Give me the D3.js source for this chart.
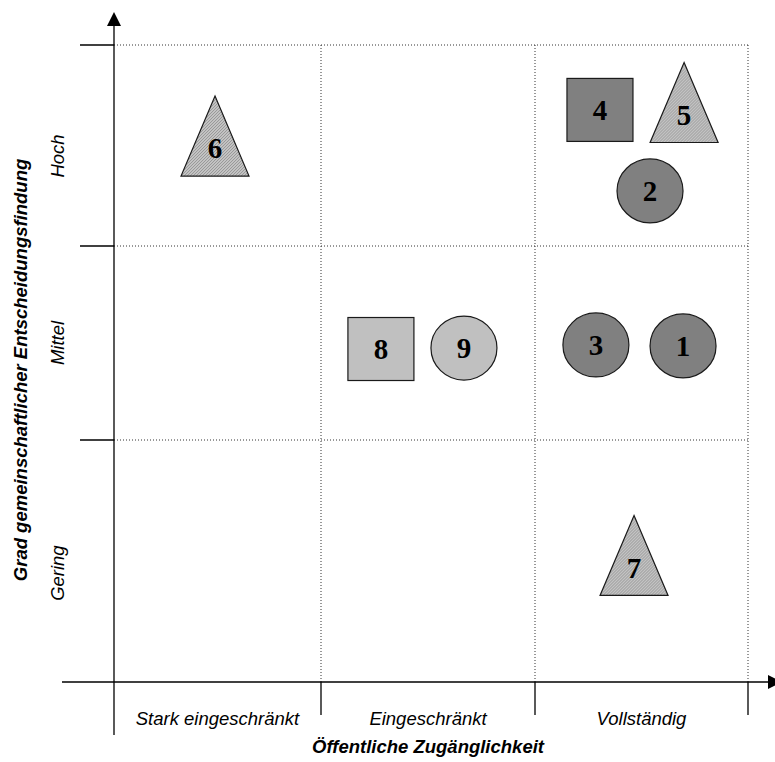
<!DOCTYPE html>
<html>
<head>
<meta charset="utf-8">
<script src="https://cdn.jsdelivr.net/npm/d3@7"></script>
<style>
  html, body { margin: 0; padding: 0; background: #fff; }
  svg { display: block; }
</style>
</head>
<body>
<svg id="chart" width="775" height="762"></svg>
<script>
// ---- data ----
const xCategories = ["Stark eingeschränkt", "Eingeschränkt", "Vollständig"];
const yCategories = ["Gering", "Mittel", "Hoch"];
const yLabelPos = [0.45, 1.5, 2.448];
const xTitle = "Öffentliche Zugänglichkeit";
const yTitle = "Grad gemeinschaftlicher Entscheidungsfindung";

const ids    = [1, 2, 3, 4, 5, 6, 7, 8, 9];
const shapes = ["circle", "circle", "circle", "square", "triangle", "triangle", "triangle", "square", "circle"];
const xVals  = [2.695, 2.54, 2.286, 2.305, 2.70, 0.488, 2.465, 1.28, 1.668];
const yVals  = [1.485, 2.274, 1.49, 2.677, 2.714, 2.547, 0.523, 1.469, 1.474];
const tones  = ["dark", "dark", "dark", "dark", "hatch", "hatch", "hatch", "light", "light"];

// ---- setup ----
const svg = d3.select("#chart");
const x = d3.scaleLinear().domain([0, 1, 2, 3]).range([114, 321, 535, 748]);
const y = d3.scaleLinear().domain([0, 1, 2, 3]).range([682, 440, 246, 45]);

const defs = svg.append("defs");
const pat = defs.append("pattern").attr("id", "hatch")
  .attr("patternUnits", "userSpaceOnUse").attr("width", 3).attr("height", 3);
pat.append("rect").attr("width", 3).attr("height", 3).attr("fill", "#c4c4c4");
pat.append("path").attr("d", "M0,3 L3,0 M-1,1 L1,-1 M2,4 L4,2")
  .attr("stroke", "#8a8a8a").attr("stroke-width", 0.8);

const fillOf = { dark: "#808080", light: "#c0c0c0", hatch: "url(#hatch)" };

// ---- grid (dotted) ----
const g = svg.append("g");
[1, 2, 3].forEach(v => {
  g.append("line").attr("x1", x(v)).attr("x2", x(v)).attr("y1", y(0)).attr("y2", y(3))
    .attr("stroke", "#333").attr("stroke-width", 1).attr("stroke-dasharray", "1,2");
  g.append("line").attr("x1", x(0)).attr("x2", x(3)).attr("y1", y(v)).attr("y2", y(v))
    .attr("stroke", "#333").attr("stroke-width", 1).attr("stroke-dasharray", "1,2");
});

// ---- axes ----
const ax = svg.append("g").attr("stroke", "#000").attr("stroke-width", 1.3);
ax.append("line").attr("x1", x(0)).attr("x2", x(0)).attr("y1", 24).attr("y2", 735);
ax.append("line").attr("x1", 62).attr("x2", 770).attr("y1", y(0)).attr("y2", y(0));
[1, 2, 3].forEach(v => {
  ax.append("line").attr("x1", x(v)).attr("x2", x(v)).attr("y1", y(0)).attr("y2", y(0) + 33);
  ax.append("line").attr("x1", x(0) - 34).attr("x2", x(0)).attr("y1", y(v)).attr("y2", y(v));
});
svg.append("path").attr("d", `M${x(0)},12 L${x(0) - 7},26 L${x(0) + 7},26 Z`).attr("fill", "#000");
svg.append("path").attr("d", `M782,${y(0)} L768,${y(0) - 7} L768,${y(0) + 7} Z`).attr("fill", "#000");

// ---- category labels ----
const FS = 18.5;
svg.append("g").selectAll("text").data(xCategories).join("text")
  .attr("x", (d, i) => x(i + 0.5)).attr("y", 725)
  .attr("text-anchor", "middle")
  .attr("font-family", "Liberation Sans, Arial, sans-serif")
  .attr("font-style", "italic").attr("font-size", FS)
  .text(d => d);

svg.append("g").selectAll("text").data(yCategories).join("text")
  .attr("transform", (d, i) => `translate(64,${y(yLabelPos[i])}) rotate(-90)`)
  .attr("text-anchor", "middle")
  .attr("font-family", "Liberation Sans, Arial, sans-serif")
  .attr("font-style", "italic").attr("font-size", FS)
  .text(d => d);

svg.append("text").attr("x", x(1.5)).attr("y", 753)
  .attr("text-anchor", "middle")
  .attr("font-family", "Liberation Sans, Arial, sans-serif")
  .attr("font-style", "italic").attr("font-weight", "bold").attr("font-size", FS)
  .text(xTitle);

svg.append("text").attr("transform", `translate(27,${y(1.361)}) rotate(-90)`)
  .attr("text-anchor", "middle")
  .attr("font-family", "Liberation Sans, Arial, sans-serif")
  .attr("font-style", "italic").attr("font-weight", "bold").attr("font-size", FS)
  .text(yTitle);

// ---- markers ----
const items = ids.map((id, i) => ({ id, shape: shapes[i], xv: xVals[i], yv: yVals[i], tone: tones[i] }));
const mk = svg.append("g").selectAll("g").data(items).join("g")
  .attr("transform", d => `translate(${x(d.xv)},${y(d.yv)})`);

mk.each(function (d) {
  const s = d3.select(this);
  let el;
  if (d.shape === "circle") {
    el = s.append("ellipse").attr("rx", 33).attr("ry", 32);
  } else if (d.shape === "square") {
    el = s.append("rect").attr("x", -33).attr("y", -31.5).attr("width", 66).attr("height", 63);
  } else {
    el = s.append("path").attr("d", "M0,-40 L34,40 L-34,40 Z");
  }
  el.attr("fill", fillOf[d.tone]).attr("stroke", "#1a1a1a").attr("stroke-width", 1.2);
  s.append("text")
    .attr("y", d.shape === "triangle" ? 12 : 0)
    .attr("dy", "0.35em")
    .attr("text-anchor", "middle")
    .attr("font-family", "Liberation Serif, Times New Roman, serif")
    .attr("font-weight", "bold").attr("font-size", 29)
    .attr("fill", "#000")
    .text(d.id);
});
</script>
</body>
</html>
